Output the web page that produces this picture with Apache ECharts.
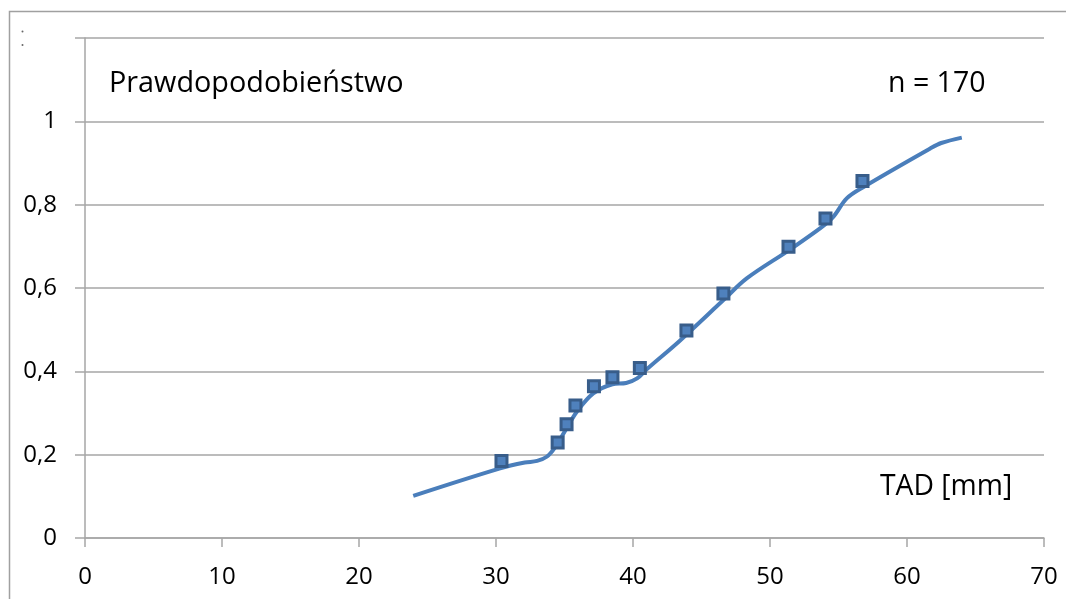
<!DOCTYPE html>
<html><head><meta charset="utf-8">
<script src="https://cdn.jsdelivr.net/npm/echarts@6/dist/echarts.min.js"></script>
<style>html,body{margin:0;padding:0;background:#fff}#c{width:1066px;height:599px}</style>
</head><body><div id="c"></div>
<script>
// Observed points (TAD [mm], probability)
var pointX = [30.4, 34.5, 35.15, 35.8, 37.15, 38.5, 40.5, 43.9, 46.6, 51.35, 54.05, 56.75];
var pointY = [0.185, 0.229, 0.273, 0.318, 0.364, 0.386, 0.408, 0.498, 0.587, 0.699, 0.767, 0.857];
// Fitted curve
var curveX = [23.96, 30.3, 32.1, 33.0, 33.7, 34.3, 35.15, 35.9, 37.1, 38.5, 39.5, 40.3, 41.0, 43.4, 46.6, 48.3, 51.4, 53.65, 54.6, 55.6, 56.8, 61.7, 62.5, 64.0];
var curveY = [0.101, 0.167, 0.181, 0.185, 0.195, 0.217, 0.263, 0.303, 0.347, 0.369, 0.372, 0.383, 0.405, 0.473, 0.571, 0.623, 0.691, 0.743, 0.770, 0.815, 0.842, 0.935, 0.948, 0.961];
var xTicks = [0, 10, 20, 30, 40, 50, 60, 70];
var yTicks = [0, 0.2, 0.4, 0.6, 0.8, 1, 1.2];
var title = 'Prawdopodobieństwo';
var nLabel = 'n = 170';
var xName = 'TAD [mm]';

var FONT = '"Open Sans", "Liberation Sans", sans-serif';
var AX = '#a6a6a6';
var chart = echarts.init(document.getElementById('c'), null, {renderer: 'canvas'});
var pts = pointX.map(function (x, i) { return [x, pointY[i]]; });
var crv = curveX.map(function (x, i) { return [x, curveY[i]]; });
chart.setOption({
  animation: false,
  backgroundColor: '#fff',
  grid: {left: 85, right: 22, top: 38, bottom: 61, containLabel: false},
  xAxis: {
    type: 'value', min: xTicks[0], max: xTicks[xTicks.length - 1], interval: 10,
    axisLine: {show: true, lineStyle: {color: AX, width: 1.5}},
    axisTick: {show: true, length: 9, lineStyle: {color: AX, width: 1.5}},
    axisLabel: {color: '#000', fontFamily: FONT, fontSize: 24, margin: 27},
    splitLine: {show: false}
  },
  yAxis: {
    type: 'value', min: yTicks[0], max: yTicks[yTicks.length - 1], interval: 0.2,
    axisLine: {show: true, onZero: false, lineStyle: {color: AX, width: 1.5}},
    axisTick: {show: true, length: 10, lineStyle: {color: AX, width: 1.5}},
    axisLabel: {color: '#000', fontFamily: FONT, fontSize: 24, margin: 28,
      formatter: function (v) { if (Math.abs(v - 1.2) < 1e-6) return ''; return String(Math.round(v * 10) / 10).replace('.', ','); }},
    splitLine: {show: true, lineStyle: {color: AX, width: 1.5}}
  },
  series: [
    {type: 'line', data: crv, smooth: 0.35, showSymbol: false, symbol: 'none',
     lineStyle: {color: '#4a7ebb', width: 4}, z: 2},
    {type: 'scatter', data: pts, symbol: 'rect', symbolSize: 11,
     itemStyle: {color: '#4f81bd', borderColor: '#385d8a', borderWidth: 3, opacity: 1}, z: 3}
  ],
  graphic: [
    {type: 'polyline', shape: {points: [[9.5, 599], [9.5, 11.5], [1066, 11.5]]}, style: {stroke: '#a0a0a0', lineWidth: 1.5, fill: null}},
    {type: 'circle', shape: {cx: 22.5, cy: 31.5, r: 1}, style: {fill: '#666'}},
    {type: 'circle', shape: {cx: 22.5, cy: 45, r: 1}, style: {fill: '#666'}},
    {type: 'text', left: 109, top: 69, style: {text: title, font: '28.8px ' + FONT, fill: '#000'}},
    {type: 'text', left: 888, top: 69, style: {text: nLabel, font: '28.5px ' + FONT, fill: '#000'}},
    {type: 'text', left: 880, top: 473, style: {text: xName, font: '28.3px ' + FONT, fill: '#000'}}
  ]
});
</script></body></html>
